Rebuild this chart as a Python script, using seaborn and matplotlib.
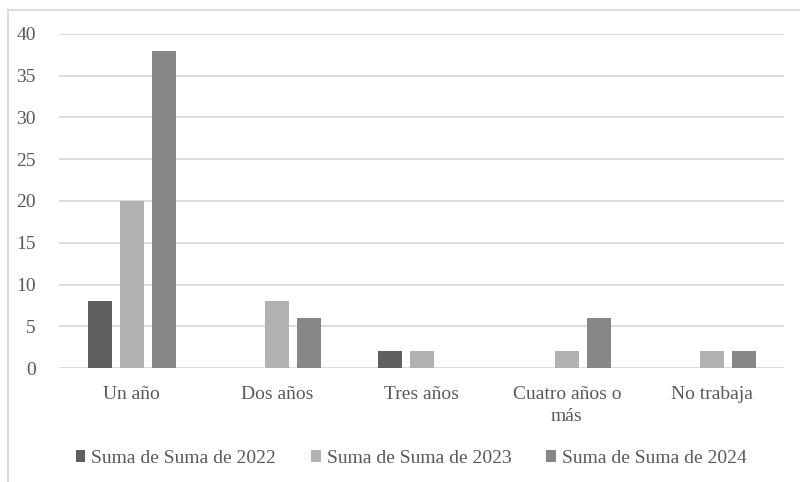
import matplotlib
matplotlib.use("Agg")
import matplotlib.pyplot as plt
from matplotlib.lines import Line2D
from matplotlib.patches import Patch
import seaborn as sns
import pandas as pd

categories = ["Un año", "Dos años", "Tres años", "Cuatro años o\nmás", "No trabaja"]
series_names = ["Suma de Suma de 2022", "Suma de Suma de 2023", "Suma de Suma de 2024"]
values_2022 = [8, 0, 2, 0, 0]
values_2023 = [20, 8, 2, 2, 2]
values_2024 = [38, 6, 0, 6, 2]
colors = ["#5f5f5f", "#b1b1b1", "#878787"]
yticks = [0, 5, 10, 15, 20, 25, 30, 35, 40]

rows = []
for name, vals in zip(series_names, [values_2022, values_2023, values_2024]):
    for cat, v in zip(categories, vals):
        rows.append({"categoria": cat, "serie": name, "valor": v})
df = pd.DataFrame(rows)

sns.set_theme(style="white")
plt.rcParams["font.family"] = ["Liberation Serif", "DejaVu Serif"]
text_color = "#595959"
grid_color = "#d9d9d9"
fs = 14

fig = plt.figure(figsize=(8.0, 4.82), dpi=100)
ax = fig.add_axes([0.0741, 0.2365, 0.9063, 0.6930])

sns.barplot(data=df, x="categoria", y="valor", hue="serie", order=categories,
            hue_order=series_names, palette=colors, width=0.663, gap=0.25,
            saturation=1, legend=False, ax=ax, edgecolor="none")

ax.set_ylim(0, 40)
ax.set_xlim(-0.5, len(categories) - 0.5)
ax.set_yticks(yticks)
ax.set_yticklabels([str(t) for t in yticks])
ax.set_xlabel("")
ax.set_ylabel("")
for t in yticks:
    ax.axhline(t, color=grid_color, lw=1.3, zorder=0)
for s in ax.spines.values():
    s.set_visible(False)
ax.tick_params(axis="y", length=0, pad=17, labelsize=fs, labelcolor=text_color)
ax.tick_params(axis="x", length=0, pad=13, labelsize=fs, labelcolor=text_color)
for lab in ax.get_xticklabels():
    lab.set_verticalalignment("top")
    lab.set_linespacing(1.38)

handles = [Patch(facecolor=c, edgecolor="none") for c in colors]
fig.legend(handles, series_names, loc="center", bbox_to_anchor=(0.514, 0.049),
           ncol=3, frameon=False, fontsize=fs, handlelength=0.5, handleheight=0.5,
           handletextpad=0.3, columnspacing=1.8, labelcolor=text_color)

# light chart-area frame
fig.add_artist(Line2D([0.010, 0.010], [0.0, 0.980], transform=fig.transFigure,
                      color=grid_color, lw=1.3))
fig.add_artist(Line2D([0.010, 1.0], [0.980, 0.980], transform=fig.transFigure,
                      color=grid_color, lw=1.3))

fig.savefig("out.png", dpi=100, facecolor="white")
